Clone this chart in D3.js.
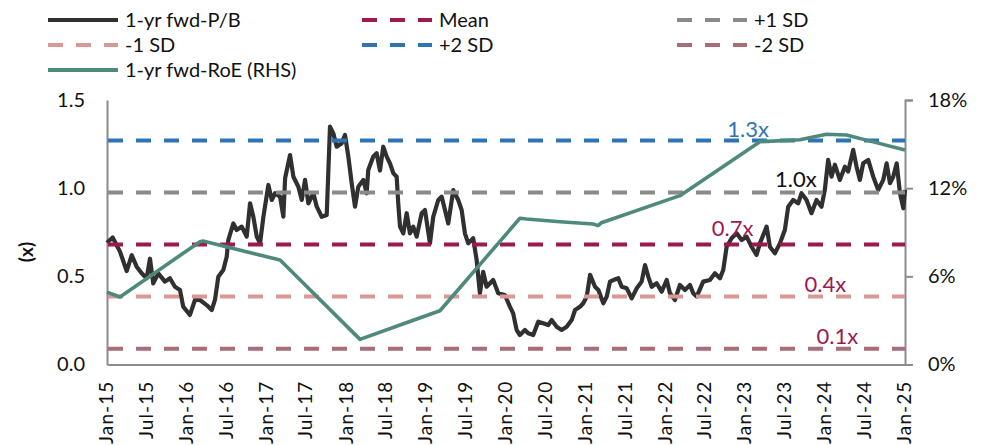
<!DOCTYPE html>
<html>
<head>
<meta charset="utf-8">
<script src="https://cdn.jsdelivr.net/npm/d3@7/dist/d3.min.js"></script>
<style>
  html, body { margin: 0; padding: 0; background: #fff; }
  svg { display: block; font-family: Lato, "Open Sans", sans-serif; }
</style>
</head>
<body>
<svg id="chart" width="984" height="445"></svg>
<script>
// ---- Data -------------------------------------------------------------
// 1-yr forward P/B (x), sampled at decimal-year dates
const pbDates = [
  2015.000, 2015.071, 2015.163, 2015.247, 2015.310, 2015.372, 2015.435, 2015.497, 2015.539, 2015.580,
  2015.643, 2015.727, 2015.789, 2015.852, 2015.915, 2015.956, 2016.040, 2016.103, 2016.165, 2016.249,
  2016.312, 2016.353, 2016.395, 2016.457, 2016.500, 2016.520, 2016.583, 2016.625, 2016.688, 2016.750,
  2016.792, 2016.833, 2016.876, 2016.917, 2016.959, 2017.021, 2017.064, 2017.105, 2017.168, 2017.209,
  2017.231, 2017.293, 2017.335, 2017.397, 2017.440, 2017.481, 2017.523, 2017.586, 2017.628, 2017.690,
  2017.753, 2017.794, 2017.836, 2017.878, 2017.941, 2017.982, 2018.024, 2018.066, 2018.108, 2018.149,
  2018.212, 2018.254, 2018.274, 2018.337, 2018.379, 2018.421, 2018.462, 2018.505, 2018.546, 2018.588,
  2018.630, 2018.650, 2018.672, 2018.713, 2018.756, 2018.797, 2018.838, 2018.881, 2018.944, 2018.985,
  2019.048, 2019.089, 2019.152, 2019.194, 2019.236, 2019.277, 2019.340, 2019.402, 2019.445, 2019.486,
  2019.528, 2019.590, 2019.633, 2019.674, 2019.715, 2019.758, 2019.841, 2019.904, 2019.987, 2020.050,
  2020.091, 2020.134, 2020.175, 2020.238, 2020.279, 2020.342, 2020.405, 2020.467, 2020.530, 2020.572,
  2020.635, 2020.697, 2020.760, 2020.823, 2020.865, 2020.927, 2020.968, 2021.011, 2021.053, 2021.115,
  2021.157, 2021.219, 2021.262, 2021.303, 2021.345, 2021.407, 2021.450, 2021.513, 2021.575, 2021.638,
  2021.700, 2021.742, 2021.783, 2021.826, 2021.888, 2021.951, 2022.014, 2022.055, 2022.118, 2022.180,
  2022.243, 2022.306, 2022.347, 2022.390, 2022.472, 2022.556, 2022.619, 2022.682, 2022.723, 2022.766,
  2022.828, 2022.891, 2022.954, 2023.016, 2023.079, 2023.141, 2023.183, 2023.267, 2023.308, 2023.371,
  2023.434, 2023.496, 2023.538, 2023.600, 2023.663, 2023.705, 2023.768, 2023.830, 2023.893, 2023.956,
  2023.997, 2024.039, 2024.081, 2024.123, 2024.185, 2024.248, 2024.289, 2024.352, 2024.394, 2024.436,
  2024.477, 2024.540, 2024.603, 2024.665, 2024.728, 2024.770, 2024.812, 2024.853, 2024.896, 2024.937,
  2024.979, 2025.000
];
const pbValues = [
  0.69, 0.72, 0.64, 0.53, 0.62, 0.555, 0.517, 0.489, 0.60, 0.46,
  0.517, 0.47, 0.489, 0.441, 0.423, 0.328, 0.281, 0.366, 0.366, 0.337,
  0.309, 0.366, 0.498, 0.536, 0.611, 0.706, 0.80, 0.763, 0.782, 0.725,
  0.914, 0.838, 0.725, 0.687, 0.838, 1.018, 0.933, 0.971, 0.952, 0.838,
  1.056, 1.188, 1.065, 1.008, 0.933, 1.047, 0.914, 0.971, 0.895, 0.838,
  0.848, 1.349, 1.311, 1.235, 1.255, 1.302, 1.179, 1.028, 0.895, 1.008,
  1.047, 0.971, 1.103, 1.179, 1.198, 1.10, 1.235, 1.179, 1.141, 1.085,
  1.065, 0.914, 0.782, 0.744, 0.858, 0.744, 0.782, 0.725, 0.858, 0.876,
  0.687, 0.838, 0.933, 0.952, 0.876, 0.80, 0.989, 0.933, 0.876, 0.744,
  0.687, 0.716, 0.593, 0.404, 0.526, 0.441, 0.479, 0.404, 0.394, 0.328,
  0.29, 0.196, 0.167, 0.196, 0.177, 0.167, 0.243, 0.234, 0.224, 0.252,
  0.214, 0.196, 0.214, 0.252, 0.309, 0.328, 0.347, 0.385, 0.508, 0.441,
  0.423, 0.347, 0.385, 0.47, 0.479, 0.489, 0.441, 0.432, 0.375, 0.432,
  0.47, 0.564, 0.498, 0.441, 0.461, 0.413, 0.479, 0.404, 0.366, 0.451,
  0.423, 0.451, 0.404, 0.385, 0.47, 0.479, 0.517, 0.489, 0.536, 0.668,
  0.716, 0.744, 0.706, 0.725, 0.668, 0.621, 0.687, 0.782, 0.668, 0.631,
  0.687, 0.763, 0.895, 0.933, 0.914, 0.971, 0.933, 0.858, 0.933, 0.895,
  0.99, 1.16, 1.065, 1.133, 1.047, 1.122, 1.094, 1.217, 1.122, 1.047,
  1.141, 1.16, 1.065, 0.99, 1.047, 1.141, 1.028, 1.065, 1.141, 0.971,
  0.886, 0.99
];

// 1-yr forward RoE (%), right-hand axis
const roeDates = [
  2015.000, 2015.163, 2016.165, 2016.203, 2017.168, 2018.170, 2018.672, 2019.173,
  2020.175, 2020.259, 2020.677, 2021.090, 2021.153, 2021.195, 2022.180, 2023.183,
  2023.684, 2024.018, 2024.268, 2024.602, 2025.000
];
const roeValues = [
  4.93, 4.59, 8.36, 8.40, 7.11, 1.71, 2.69, 3.66,
  9.95, 9.90, 9.72, 9.56, 9.45, 9.65, 11.49, 15.16,
  15.30, 15.67, 15.62, 15.15, 14.60
];

// Long-run P/B statistics
const pbMean = 0.68;
const pbSD = 0.295;

// Band multiples of the standard deviation and their legend names
const bandNames = ["Mean", "+1 SD", "-1 SD", "+2 SD", "-2 SD"];
const bandMultiples = [0, 1, -1, 2, -2];

// Axis ticks
const leftTicks = [0.0, 0.5, 1.0, 1.5];
const rightTicks = [0, 6, 12, 18];
const seriesNames = ["1-yr fwd-P/B", "1-yr fwd-RoE (RHS)"];
const leftAxisTitle = "(x)";

// ---- Styling / layout ---------------------------------------------------
const colors = {
  pb: "#303030",
  roe: "#4e8a7c",
  "Mean": "#9c1a4f",
  "+1 SD": "#8a8a8a",
  "-1 SD": "#d99896",
  "+2 SD": "#2e74b5",
  "-2 SD": "#a96c79",
  axis: "#8c8c8c"
};
const labelColors = {
  "Mean": "#9c1a4f", "+1 SD": "#111", "-1 SD": "#9c1a4f", "+2 SD": "#2e74b5", "-2 SD": "#9c1a4f"
};
// where each band's value label sits (decimal year of its centre, vertical nudge)
const labelSpots = {
  "+2 SD": [2023.035, -4],
  "+1 SD": [2023.635, -6],
  "Mean":  [2022.840, -9],
  "-1 SD": [2024.005, -5],
  "-2 SD": [2024.155, -5]
};

const margin = { left: 107, right: 905, top: 100, bottom: 364.5 };

const toDate = t => {
  const y = Math.floor(t);
  const a = new Date(y, 0, 1).getTime();
  const b = new Date(y + 1, 0, 1).getTime();
  return new Date(a + (t - y) * (b - a));
};

const svg = d3.select("#chart");

const x = d3.scaleTime()
  .domain([new Date(2015, 0, 1), new Date(2025, 0, 1)])
  .range([margin.left, margin.right]);
const yL = d3.scaleLinear().domain([0, 1.5]).range([margin.bottom, margin.top]);
const yR = d3.scaleLinear().domain([0, 18]).range([margin.bottom, margin.top]);

const pbData = pbDates.map((t, i) => ({ d: toDate(t), v: pbValues[i] }));
const roeData = roeDates.map((t, i) => ({ d: toDate(t), v: roeValues[i] }));

// ---- Axes -------------------------------------------------------------
const axisG = svg.append("g");

// left axis
const gL = axisG.append("g")
  .attr("transform", `translate(${margin.left},0)`)
  .call(d3.axisLeft(yL).tickValues(leftTicks).tickFormat(d3.format(".1f")).tickSize(0).tickPadding(22));
gL.select(".domain").attr("stroke", colors.axis).attr("stroke-width", 2);
gL.selectAll("text").attr("font-size", 20).attr("fill", "#111").attr("font-family", "Lato");

// right axis
const gR = axisG.append("g")
  .attr("transform", `translate(${margin.right},0)`)
  .call(d3.axisRight(yR).tickValues(rightTicks).tickFormat(d => d + "%").tickSize(8).tickPadding(15));
gR.select(".domain").attr("stroke", colors.axis).attr("stroke-width", 2);
gR.selectAll(".tick line").attr("stroke", colors.axis).attr("stroke-width", 2);
gR.selectAll("text").attr("font-size", 20).attr("fill", "#111").attr("font-family", "Lato");

// bottom axis
const xTicks = d3.timeMonth.range(new Date(2015, 0, 1), new Date(2025, 0, 2), 6);
const gB = axisG.append("g")
  .attr("transform", `translate(0,${margin.bottom})`)
  .call(d3.axisBottom(x).tickValues(xTicks).tickFormat(d3.timeFormat("%b-%y")).tickSize(0).tickPadding(0));
gB.select(".domain").attr("stroke", colors.axis).attr("stroke-width", 2);
gB.selectAll("text")
  .attr("font-size", 19)
  .attr("letter-spacing", 1.1)
  .attr("fill", "#111")
  .attr("font-family", "Lato")
  .attr("text-anchor", "end")
  .attr("transform", "rotate(-90)")
  .attr("x", -16)
  .attr("y", -1)
  .attr("dy", "0.35em")
  .attr("dx", 0);

// left axis title
svg.append("text")
  .attr("transform", `translate(26,252) rotate(-90)`)
  .attr("text-anchor", "middle")
  .attr("dy", "0.35em")
  .attr("font-size", 19)
  .attr("font-weight", "bold")
  .attr("fill", "#111")
  .text(leftAxisTitle);

// ---- Series -------------------------------------------------------------
const linePB = d3.line().x(d => x(d.d)).y(d => yL(d.v)).curve(d3.curveLinear);
svg.append("path")
  .datum(pbData)
  .attr("d", linePB)
  .attr("fill", "none")
  .attr("stroke", colors.pb)
  .attr("stroke-width", 4.2)
  .attr("stroke-linejoin", "round");

// standard-deviation bands
const bands = bandNames.map((name, i) => ({ name, v: pbMean + bandMultiples[i] * pbSD }));
svg.append("g").selectAll("line")
  .data(bands)
  .join("line")
  .attr("x1", margin.left + 1)
  .attr("x2", margin.right)
  .attr("y1", d => yL(d.v))
  .attr("y2", d => yL(d.v))
  .attr("stroke", d => colors[d.name])
  .attr("stroke-width", 4)
  .attr("stroke-dasharray", "15,13");

const lineROE = d3.line().x(d => x(d.d)).y(d => yR(d.v));
svg.append("path")
  .datum(roeData)
  .attr("d", lineROE)
  .attr("fill", "none")
  .attr("stroke", colors.roe)
  .attr("stroke-width", 3.6)
  .attr("stroke-linejoin", "round");

// band value labels
const fmtX = v => (Math.round(v * 10) / 10).toFixed(1) + "x";
svg.append("g").selectAll("text")
  .data(bands)
  .join("text")
  .attr("x", d => x(toDate(labelSpots[d.name][0])))
  .attr("y", d => yL(d.v) + labelSpots[d.name][1])
  .attr("text-anchor", "middle")
  .attr("font-size", 22)
  .attr("fill", d => labelColors[d.name])
  .text(d => fmtX(d.v));

// ---- Legend -----------------------------------------------------------
const legendItems = [
  { name: seriesNames[0], color: colors.pb, dashed: false },
  { name: "Mean", color: colors["Mean"], dashed: true },
  { name: "+1 SD", color: colors["+1 SD"], dashed: true },
  { name: "-1 SD", color: colors["-1 SD"], dashed: true },
  { name: "+2 SD", color: colors["+2 SD"], dashed: true },
  { name: "-2 SD", color: colors["-2 SD"], dashed: true },
  { name: seriesNames[1], color: colors.roe, dashed: false }
];
const legCols = [48, 362, 677];
const legRows = [20, 45, 70];
const leg = svg.append("g").selectAll("g")
  .data(legendItems)
  .join("g")
  .attr("transform", (d, i) => `translate(${legCols[i % 3]},${legRows[Math.floor(i / 3)]})`);
leg.append("line")
  .attr("x1", 0).attr("x2", 70)
  .attr("stroke", d => d.color)
  .attr("stroke-width", 4)
  .attr("stroke-dasharray", d => d.dashed ? "15,13" : null);
leg.append("text")
  .attr("x", 77)
  .attr("dy", "0.35em")
  .attr("font-size", 20)
  .attr("fill", "#111")
  .text(d => d.name);
</script>
</body>
</html>
